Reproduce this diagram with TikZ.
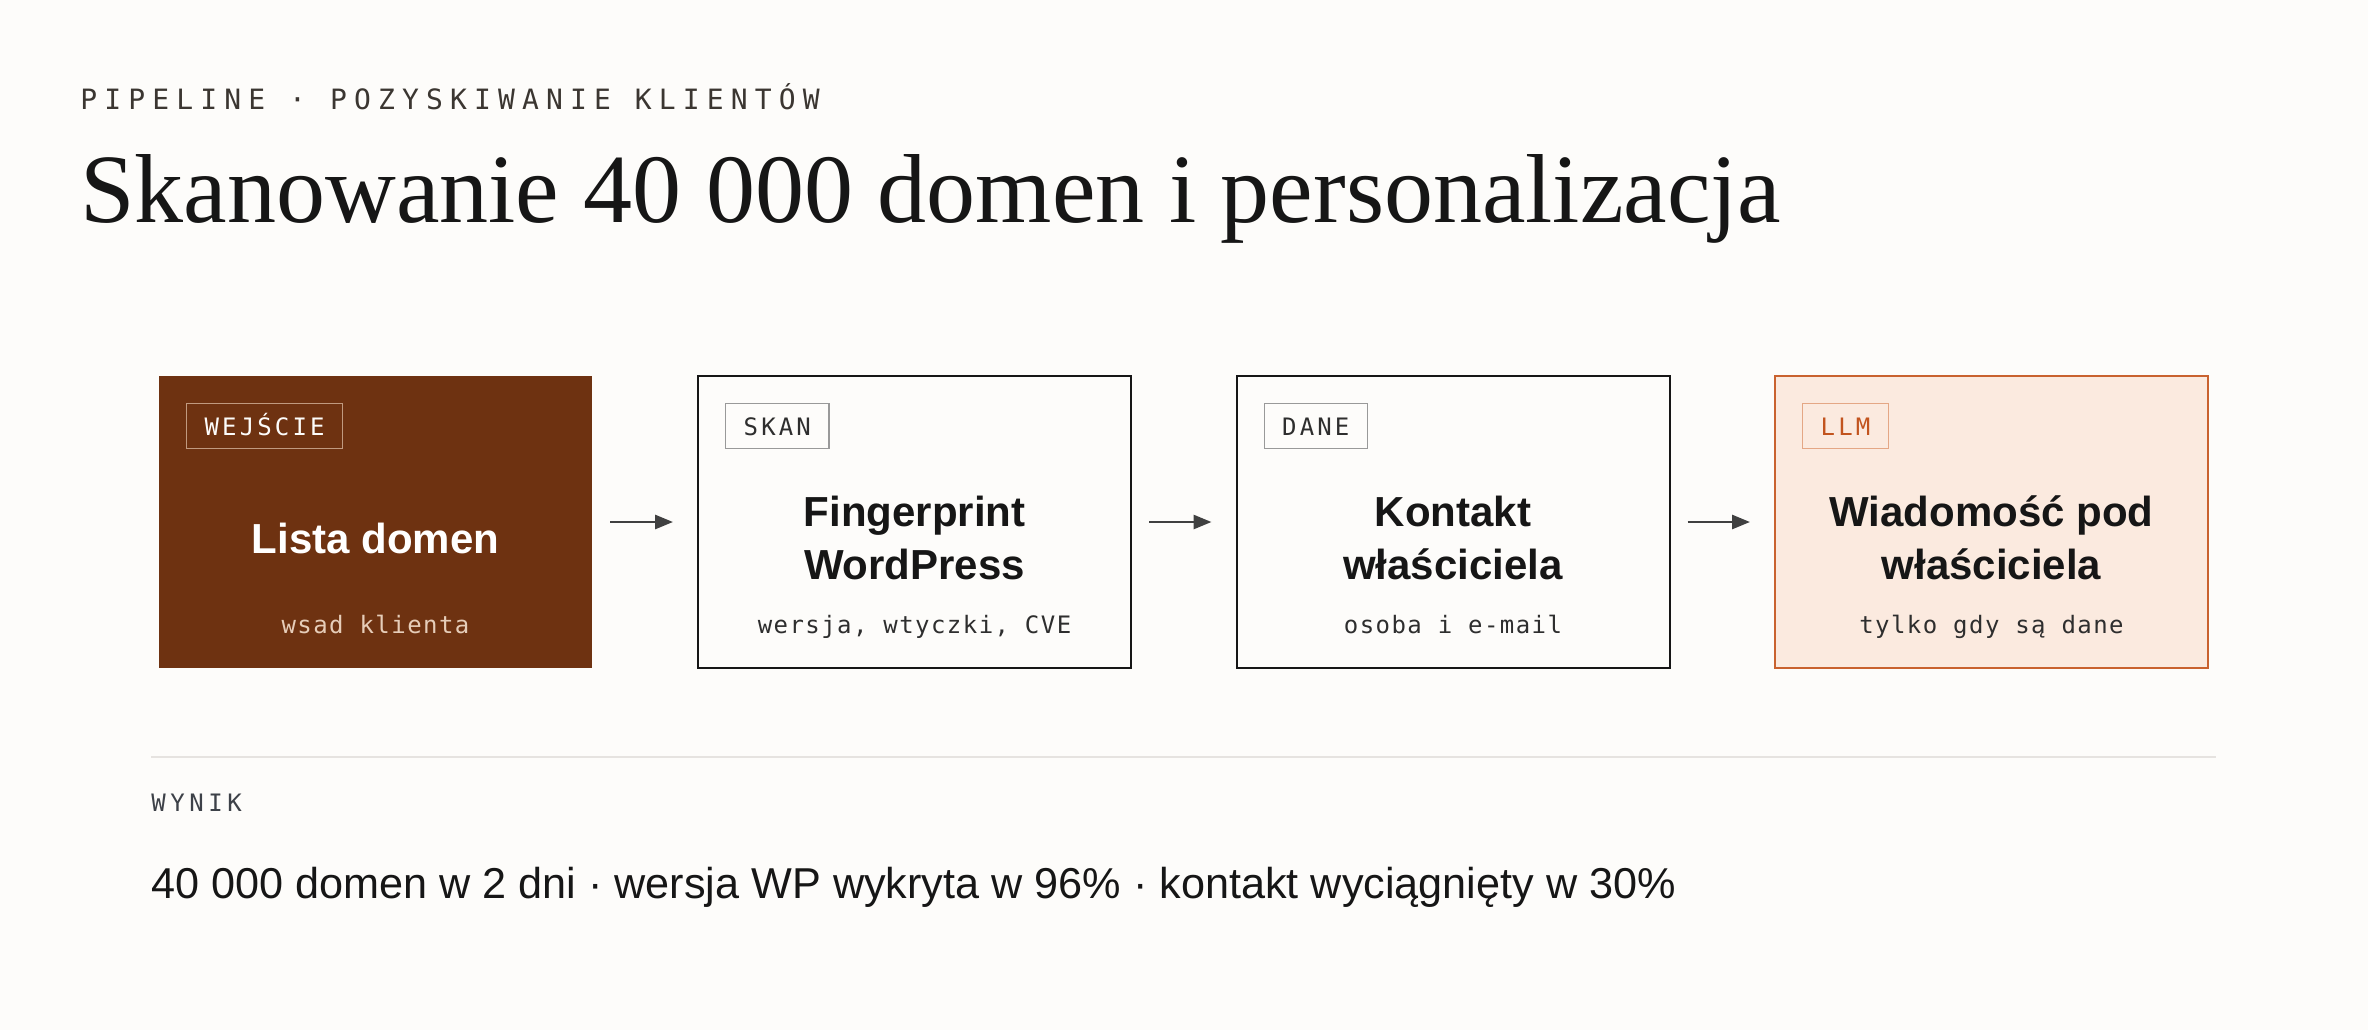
\documentclass[tikz,border=0pt]{standalone}
\usepackage{fontspec}
\setmainfont{Liberation Serif}
\setsansfont{Liberation Sans}
\setmonofont{DejaVu Sans Mono}
\newfontfamily\kickerfont[LetterSpace=25.5]{DejaVu Sans Mono}
\newfontfamily\tagfont[LetterSpace=13]{DejaVu Sans Mono}
\newfontfamily\notefont[LetterSpace=6]{DejaVu Sans Mono}
\newfontfamily\labelfont[LetterSpace=19]{DejaVu Sans Mono}
\usetikzlibrary{positioning,arrows.meta}
\definecolor{paper}{HTML}{FDFCFA}
\definecolor{ink}{HTML}{161616}
\definecolor{kicker}{HTML}{3B3631}
\definecolor{note}{HTML}{2E2E2E}
\definecolor{slate}{HTML}{3D4148}
\definecolor{rust}{HTML}{6E3211}
\definecolor{rusttag}{HTML}{C09A80}
\definecolor{rustnote}{HTML}{E6CDB9}
\definecolor{peach}{HTML}{FBEADF}
\definecolor{ember}{HTML}{C9622F}
\definecolor{embertag}{HTML}{E4A785}
\definecolor{embertext}{HTML}{C2541E}
\definecolor{rule}{HTML}{E6E3E0}
\definecolor{arrowgray}{HTML}{404040}
\begin{document}
\begin{tikzpicture}[x=0.5pt,y=-0.5pt,
  stage/.style={minimum width=216.5pt, minimum height=146pt, outer sep=0pt, line width=1pt},
  tagbox/.style={draw, line width=0.7pt, inner xsep=9pt, inner ysep=0pt, minimum height=22.5pt,
    text height=9pt, text depth=0pt, font=\tagfont\fontsize{12pt}{14pt}\selectfont},
  headline/.style={align=center, font=\sffamily\bfseries\fontsize{21pt}{26.5pt}\selectfont},
  subline/.style={anchor=base, font=\notefont\fontsize{12pt}{14pt}\selectfont},
  flow/.style={-{Triangle[length=9pt,width=7pt]}, line width=1.4pt, arrowgray,
    shorten <=9pt, shorten >=12.5pt}]
\fill[paper] (0,0) rectangle (2368,1030);
\useasboundingbox (0,0) rectangle (2368,1030);
% header
\node[anchor=base west, inner sep=0pt, kicker, font=\kickerfont\fontsize{14pt}{16pt}\selectfont] (kick) at (80,109) {PIPELINE · POZYSKIWANIE KLIENTÓW};
\node[anchor=base west, inner sep=0pt, ink, font=\fontsize{49pt}{58pt}\selectfont] (title) at (80,222) {Skanowanie 40 000 domen i personalizacja};
% stages
\node[stage, fill=rust] (b1) at (375.5,522) {};
\node[stage, draw=ink, fill=paper] (b2) at (914.5,522) {};
\node[stage, draw=ink, fill=paper] (b3) at (1453,522) {};
\node[stage, draw=ember, fill=peach] (b4) at (1991.5,522) {};
\node[tagbox, draw=rusttag, text=paper, below right=13.5pt and 13.5pt of b1.north west] (t1) {WEJŚCIE};
\node[tagbox, draw=gray!80, text=note, below right=13.5pt and 13.5pt of b2.north west] (t2) {SKAN};
\node[tagbox, draw=gray!80, text=note, below right=13.5pt and 13.5pt of b3.north west] (t3) {DANE};
\node[tagbox, draw=embertag, text=embertext, below right=13.5pt and 13.5pt of b4.north west] (t4) {LLM};
\node[headline, text=white] (h1) at (375.5,538) {Lista domen};
\node[headline, text=ink] (h2) at (914.5,538) {Fingerprint\\WordPress};
\node[headline, text=ink] (h3) at (1453,538) {Kontakt\\właściciela};
\node[headline, text=ink] (h4) at (1991.5,538) {Wiadomość pod\\właściciela};
\node[subline, text=rustnote] (s1) at (375.5,633) {wsad klienta};
\node[subline, text=note] (s2) at (914.5,633) {wersja, wtyczki, CVE};
\node[subline, text=note] (s3) at (1453,633) {osoba i e-mail};
\node[subline, text=note] (s4) at (1991.5,633) {tylko gdy są dane};
\draw[flow] (b1) -- (b2);
\draw[flow] (b2) -- (b3);
\draw[flow] (b3) -- (b4);
% result
\coordinate (r1) at (151,757);
\coordinate (r2) at (2216,757);
\draw[rule, line width=0.8pt] (r1) -- (r2);
\node[anchor=base west, inner sep=0pt, slate, font=\labelfont\fontsize{12pt}{14pt}\selectfont] (wynik) at (151,811) {WYNIK};
\node[anchor=base west, inner sep=0pt, ink, font=\sffamily\fontsize{21.6pt}{26pt}\selectfont] (summary) at (151,898) {40 000 domen w 2 dni · wersja WP wykryta w 96\% · kontakt wyciągnięty w 30\%};
\end{tikzpicture}
\end{document}
